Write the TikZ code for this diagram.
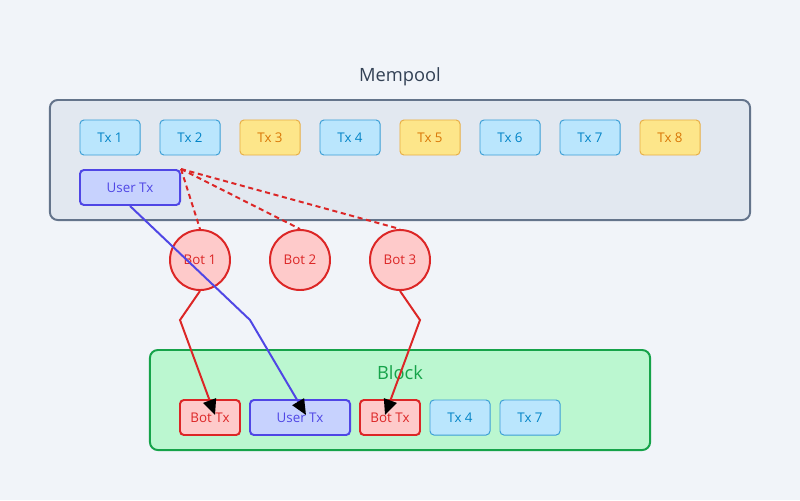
\documentclass[tikz,border=0pt]{standalone}
\usepackage{fontspec}
\setmainfont{Open Sans}
\usetikzlibrary{arrows.meta}
\definecolor{pagebg}{HTML}{F1F4F9}
\definecolor{titlegray}{HTML}{334155}
\definecolor{poolfill}{HTML}{E2E8F0}
\definecolor{poolline}{HTML}{64748B}
\definecolor{bluefill}{HTML}{BAE6FD}
\definecolor{blueline}{HTML}{3B9FD6}
\definecolor{bluetext}{HTML}{0284C7}
\definecolor{goldfill}{HTML}{FDE68A}
\definecolor{goldline}{HTML}{E8AE45}
\definecolor{goldtext}{HTML}{D97706}
\definecolor{userfill}{HTML}{C7D2FE}
\definecolor{userline}{HTML}{4F46E5}
\definecolor{botfill}{HTML}{FECACA}
\definecolor{botline}{HTML}{DC2626}
\definecolor{blockfill}{HTML}{BBF7D0}
\definecolor{blockline}{HTML}{16A34A}
\tikzset{
  txbox/.style={draw=blueline, fill=bluefill, text=bluetext, line width=0.7pt, rounded corners=2.8pt,
    minimum width=1.5cm, minimum height=0.875cm, inner sep=0pt, font=\fontsize{9.5}{11}\selectfont},
  hotbox/.style={txbox, draw=goldline, fill=goldfill, text=goldtext},
  userbox/.style={txbox, draw=userline, fill=userfill, text=userline, line width=1.4pt, minimum width=2.5cm},
  botbox/.style={txbox, draw=botline, fill=botfill, text=botline, line width=1.4pt},
  botnode/.style={circle, draw=botline, fill=botfill, text=botline, line width=1.4pt,
    minimum size=1.5cm, inner sep=0pt, font=\fontsize{9.5}{11}\selectfont},
  spylink/.style={draw=botline, line width=1.4pt, dash pattern=on 3.6pt off 2.6pt},
  botlink/.style={draw=botline, line width=1.4pt},
  userlink/.style={draw=userline, line width=1.4pt}
}
\begin{document}
\begin{tikzpicture}[x=0.025cm, y=-0.025cm, >={Triangle[length=11pt, width=9.5pt, color=black]}]
\useasboundingbox[fill=pagebg] (0,0) rectangle (800,500);
% mempool
\node[font=\fontsize{13}{15}\selectfont, text=titlegray] (pooltitle) at (400,77) {Mempool};
\node[draw=poolline, fill=poolfill, line width=1.4pt, rounded corners=5.6pt, minimum width=17.5cm, minimum height=3cm] (pool) at (400,160) {};
\node[txbox] (tx1) at (110,137.5) {Tx 1};
\node[txbox] (tx2) at (190,137.5) {Tx 2};
\node[hotbox] (tx3) at (270,137.5) {Tx 3};
\node[txbox] (tx4) at (350,137.5) {Tx 4};
\node[hotbox] (tx5) at (430,137.5) {Tx 5};
\node[txbox] (tx6) at (510,137.5) {Tx 6};
\node[txbox] (tx7) at (590,137.5) {Tx 7};
\node[hotbox] (tx8) at (670,137.5) {Tx 8};
\node[userbox] (usertx) at (130,187.5) {User Tx};
% bots
\node[botnode] (bot1) at (200,260) {Bot 1};
\node[botnode] (bot2) at (300,260) {Bot 2};
\node[botnode] (bot3) at (400,260) {Bot 3};
% block
\node[draw=blockline, fill=blockfill, line width=1.4pt, rounded corners=5.6pt, minimum width=12.5cm, minimum height=2.5cm] (block) at (400,400) {};
\node[font=\fontsize{13}{15}\selectfont, text=blockline] (blocktitle) at (400,373) {Block};
\node[botbox] (bottx1) at (210,417.5) {Bot Tx};
\node[userbox] (blockuser) at (300,417.5) {User Tx};
\node[botbox] (bottx2) at (390,417.5) {Bot Tx};
\node[txbox] (blocktx4) at (460,417.5) {Tx 4};
\node[txbox] (blocktx7) at (530,417.5) {Tx 7};
% links
\coordinate (bend1) at (180,320);
\coordinate (tip1) at (215,415);
\coordinate (bendu) at (250,320);
\coordinate (tipu) at (306,415);
\coordinate (bend3) at (420,320);
\coordinate (tip3) at (385,415);
\draw[spylink] (usertx.north east) -- (bot1.north);
\draw[spylink] (usertx.north east) -- (bot2.north);
\draw[spylink] (usertx.north east) -- (bot3.north);
\draw[userlink, ->] (usertx.south) -- (bendu) -- (tipu);
\draw[botlink, ->] (bot1.south) -- (bend1) -- (tip1);
\draw[botlink, ->] (bot3.south) -- (bend3) -- (tip3);
\end{tikzpicture}
\end{document}
